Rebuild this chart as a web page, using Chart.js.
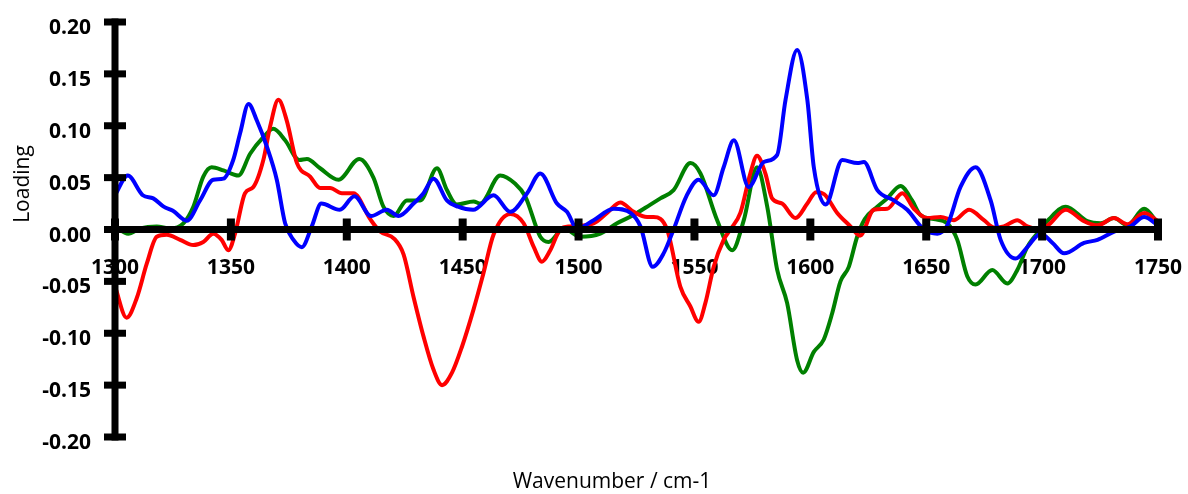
<!DOCTYPE html>
<html lang="en">
  <head>
    <meta charset="UTF-8" />
    <title>Loadings</title>
    <style>
      body {
        margin: 0;
        padding: 0;
        background: #fff;
      }
      #wrap {
        width: 1188px;
        height: 494px;
      }
    </style>
  </head>
  <body>
    <div id="wrap"><canvas id="chart"></canvas></div>
    <script src="https://cdn.jsdelivr.net/npm/chart.js"></script>
    <script>
      // tick labels
      const xTicks = [1300, 1350, 1400, 1450, 1500, 1550, 1600, 1650, 1700, 1750];
      const yTicks = [0.2, 0.15, 0.1, 0.05, 0, -0.05, -0.1, -0.15, -0.2];

      // green series
      const greenWn = [1300, 1305.7, 1310.8, 1318, 1323.7, 1329.5, 1333.8, 1338.1, 1341.7, 1346.8, 1353.2, 1358.3, 1364, 1368.3, 1373.4, 1379.5, 1382.8, 1388.5, 1396.4, 1405.4, 1411.5, 1415.8, 1420.2, 1425.9, 1431.7, 1438.9, 1443.2, 1447.5, 1454.7, 1457.6, 1466.2, 1472.7, 1477, 1483.5, 1487.1, 1493.6, 1500.8, 1509.4, 1516.6, 1523.8, 1531, 1535.3, 1541, 1548.3, 1552.6, 1559.8, 1566.3, 1571.3, 1577, 1581.4, 1585.7, 1590, 1594.3, 1596.9, 1601.5, 1605.8, 1609.4, 1613, 1616.6, 1620.2, 1623.5, 1628.9, 1633.2, 1638.9, 1643.9, 1647.5, 1653.3, 1659, 1663.4, 1667.7, 1671.3, 1678.5, 1685, 1689.3, 1693.6, 1699.4, 1703, 1710.2, 1719.5, 1725.3, 1731, 1736.8, 1744, 1750];
      const greenLoading = [0.003, -0.004, 0.001, 0.003, 0.001, 0.006, 0.022, 0.051, 0.06, 0.057, 0.052, 0.073, 0.089, 0.097, 0.086, 0.067, 0.068, 0.059, 0.048, 0.068, 0.05, 0.022, 0.013, 0.028, 0.028, 0.059, 0.038, 0.024, 0.027, 0.025, 0.052, 0.044, 0.032, -0.007, -0.012, 0.001, -0.007, -0.004, 0.006, 0.014, 0.024, 0.03, 0.038, 0.064, 0.054, 0.009, -0.02, 0.009, 0.06, 0.022, -0.039, -0.071, -0.126, -0.138, -0.118, -0.106, -0.081, -0.05, -0.036, -0.007, 0.01, 0.022, 0.03, 0.042, 0.028, 0.014, 0.01, 0.006, -0.01, -0.045, -0.053, -0.039, -0.052, -0.039, -0.017, 0, 0.01, 0.022, 0.008, 0.006, 0.011, 0.004, 0.02, 0.006];

      // red series
      const redWn = [1300, 1305, 1309.4, 1313.7, 1318, 1322.3, 1328.1, 1333.8, 1338.1, 1342.4, 1346, 1348.9, 1351.8, 1356.1, 1359.7, 1364, 1366.9, 1370.5, 1374.1, 1378.5, 1384.2, 1388.5, 1392.8, 1397.9, 1402.9, 1410.1, 1414.4, 1420.5, 1424.5, 1428.8, 1433.1, 1437.4, 1441.1, 1445.4, 1449.7, 1454.7, 1459, 1463.3, 1470.6, 1476.3, 1480.7, 1484.2, 1487.8, 1492.1, 1496.4, 1506.5, 1512.3, 1518, 1523.8, 1529.6, 1532.4, 1538.2, 1543.9, 1548.2, 1551.8, 1554.7, 1558.3, 1562.6, 1565.5, 1569.8, 1574.1, 1577, 1580.6, 1583.5, 1587.8, 1593.6, 1598.7, 1602.5, 1606, 1611.6, 1617.3, 1621.4, 1627.4, 1633.2, 1639.7, 1644.7, 1650.5, 1656.2, 1662, 1668.5, 1674.9, 1679.3, 1683.5, 1689.3, 1693.6, 1699.4, 1703, 1710.2, 1718.1, 1723.9, 1731, 1736.8, 1744, 1750];
      const redLoading = [-0.055, -0.085, -0.066, -0.033, -0.007, -0.005, -0.01, -0.015, -0.012, -0.004, -0.01, -0.02, -0.004, 0.035, 0.041, 0.067, 0.099, 0.125, 0.105, 0.064, 0.051, 0.04, 0.04, 0.035, 0.035, 0.01, -0.002, -0.009, -0.024, -0.065, -0.103, -0.135, -0.15, -0.138, -0.113, -0.077, -0.042, -0.005, 0.015, 0.006, -0.017, -0.031, -0.02, 0, 0.003, 0.006, 0.016, 0.026, 0.017, 0.012, 0.012, 0, -0.055, -0.074, -0.089, -0.071, -0.036, -0.01, 0, 0.016, 0.054, 0.071, 0.054, 0.03, 0.025, 0.011, 0.025, 0.036, 0.034, 0.016, 0.003, -0.006, 0.019, 0.02, 0.035, 0.02, 0.011, 0.012, 0.009, 0.019, 0.009, 0.002, 0.003, 0.009, 0.003, 0, 0.005, 0.019, 0.008, 0.004, 0.011, 0.005, 0.016, 0.008];

      // blue series
      const blueWn = [1300, 1305.5, 1312, 1316.5, 1321, 1325, 1331, 1336.7, 1342.4, 1346.8, 1351, 1354, 1357.6, 1361.2, 1365.5, 1369.8, 1373.4, 1377, 1380.6, 1384.9, 1389, 1397, 1403.3, 1410.5, 1417.3, 1422.3, 1428.8, 1433.1, 1437.4, 1443.2, 1448, 1454.5, 1463.3, 1470.6, 1477.8, 1483.5, 1490.7, 1495, 1499.4, 1506.5, 1515.2, 1522.4, 1526.7, 1532, 1536.7, 1541, 1546.5, 1551.8, 1558.3, 1562.6, 1567, 1573.4, 1579.9, 1585.7, 1589.3, 1594.3, 1598.7, 1601.5, 1606.6, 1613.8, 1620.3, 1623.1, 1628.9, 1636, 1641.8, 1649, 1654.8, 1659.1, 1664.8, 1671.3, 1677.8, 1682.1, 1688.6, 1693.6, 1699.4, 1704.5, 1709.5, 1718.1, 1723.9, 1731.1, 1738.2, 1744, 1750];
      const blueLoading = [0.033, 0.052, 0.033, 0.03, 0.022, 0.018, 0.0085, 0.028, 0.048, 0.049, 0.067, 0.093, 0.121, 0.105, 0.08, 0.048, 0.006, -0.01, -0.017, 0.003, 0.025, 0.019, 0.032, 0.013, 0.019, 0.013, 0.025, 0.035, 0.049, 0.028, 0.022, 0.019, 0.033, 0.017, 0.035, 0.054, 0.025, 0.017, 0.001, 0.009, 0.02, 0.016, 0.003, -0.036, -0.023, 0, 0.032, 0.048, 0.033, 0.06, 0.086, 0.041, 0.065, 0.072, 0.125, 0.173, 0.125, 0.06, 0.024, 0.067, 0.064, 0.065, 0.038, 0.028, 0.019, 0, -0.004, 0.004, 0.041, 0.06, 0.028, -0.01, -0.028, -0.017, -0.004, -0.013, -0.023, -0.013, -0.01, -0.002, 0.003, 0.012, 0.004];

      function pts(xs, ys) {
        return xs.map((x, i) => ({ x: x, y: ys[i] }));
      }

      const labelFont = "bold 21px 'Open Sans', sans-serif";
      const titleFont = "21px 'Open Sans', sans-serif";

      // tick labels under the curves
      const labelPlugin = {
        id: "labels",
        beforeDatasetsDraw(chart) {
          const ctx = chart.ctx;
          const xs = chart.scales.x;
          const ys = chart.scales.y;
          const y0 = ys.getPixelForValue(0);
          ctx.save();
          ctx.fillStyle = "#000";
          ctx.font = labelFont;
          ctx.textBaseline = "alphabetic";
          ctx.textAlign = "center";
          xTicks.forEach((t) => {
            ctx.fillText(String(t), xs.getPixelForValue(t), y0 + 44);
          });
          ctx.textAlign = "right";
          yTicks.forEach((t) => {
            ctx.fillText(t.toFixed(2), 91, ys.getPixelForValue(t) + 12);
          });
          ctx.font = titleFont;
          ctx.textAlign = "center";
          ctx.fillText("Wavenumber / cm-1", 612, 488);
          ctx.translate(29, 184);
          ctx.rotate(-Math.PI / 2);
          ctx.fillText("Loading", 0, 0);
          ctx.restore();
        },
      };

      // axis lines and tick marks on top of the curves
      const axisPlugin = {
        id: "axes",
        afterDatasetsDraw(chart) {
          const ctx = chart.ctx;
          const xs = chart.scales.x;
          const ys = chart.scales.y;
          const x0 = xs.getPixelForValue(1300);
          const x1 = xs.getPixelForValue(1750);
          const y0 = ys.getPixelForValue(0);
          const yTop = ys.getPixelForValue(0.2);
          const yBot = ys.getPixelForValue(-0.2);
          ctx.save();
          ctx.fillStyle = "#000";
          ctx.fillRect(x0 - 3.5, yTop - 3.5, 7, yBot - yTop + 7);
          ctx.fillRect(x0, y0 - 3.5, x1 - x0, 7);
          xTicks.forEach((t) => {
            const px = xs.getPixelForValue(t);
            ctx.fillRect(px - 4, y0 - 11, 8, 22);
          });
          yTicks.forEach((t) => {
            const py = ys.getPixelForValue(t);
            ctx.fillRect(x0 - 11, py - 3.5, 22, 7);
          });
          ctx.restore();
        },
      };

      const ctx = document.getElementById("chart").getContext("2d");
      new Chart(ctx, {
        type: "line",
        data: {
          datasets: [
            {
              label: "Green",
              data: pts(greenWn, greenLoading),
              borderColor: "#008000",
              order: 2,
            },
            {
              label: "Red",
              data: pts(redWn, redLoading),
              borderColor: "#ff0000",
              order: 1,
            },
            {
              label: "Blue",
              data: pts(blueWn, blueLoading),
              borderColor: "#0000ff",
              order: 0,
            },
          ],
        },
        options: {
          responsive: true,
          maintainAspectRatio: false,
          animation: false,
          layout: {
            padding: { left: 115, right: 30, top: 22, bottom: 57 },
          },
          elements: {
            point: { radius: 0 },
            line: {
              borderWidth: 4,
              cubicInterpolationMode: "monotone",
              fill: false,
            },
          },
          plugins: {
            legend: { display: false },
            tooltip: { enabled: false },
          },
          scales: {
            x: { type: "linear", min: 1300, max: 1750, display: false },
            y: { type: "linear", min: -0.2, max: 0.2, display: false },
          },
        },
        plugins: [labelPlugin, axisPlugin],
      });
    </script>
  </body>
</html>
